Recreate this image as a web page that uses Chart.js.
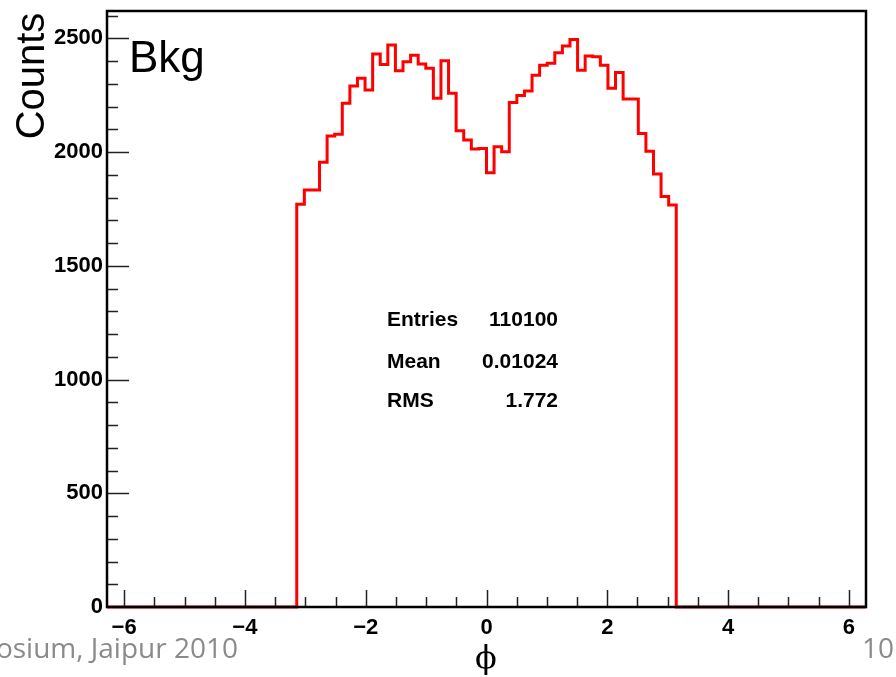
<!DOCTYPE html>
<html><head><meta charset="utf-8">
<script src="https://cdn.jsdelivr.net/npm/chart.js@4/dist/chart.umd.min.js"></script>
<style>html,body{margin:0;padding:0;background:#fff;overflow:hidden}#wrap{width:896px;height:677px;position:relative}</style>
</head><body><div id="wrap"><canvas id="c" width="896" height="677"></canvas></div>
<script>
// ---- data (100 bins over [-2pi, 2pi]) ----
const xMin = -2 * Math.PI;
const xMax = 2 * Math.PI;
const counts = [
  0,0,0,0,0,0,0,0,0,0,0,0,0,0,0,0,0,0,0,0,0,0,0,0,0,
  1771,1833,1833,1955,2070,2078,2214,2290,2324,2273,
  2431,2385,2470,2357,2397,2426,2387,2368,2236,2401,
  2258,2094,2053,2013,2016,1909,2023,2001,2218,2248,
  2268,2338,2382,2390,2437,2466,2495,2360,2422,2419,
  2382,2280,2350,2233,2233,2082,2004,1903,1804,1767,
  0,0,0,0,0,0,0,0,0,0,0,0,0,0,0,0,0,0,0,0,0,0,0,0,0
];
const xTickValues = [-6, -4, -2, 0, 2, 4, 6];
const yTickValues = [0, 500, 1000, 1500, 2000, 2500];
const statLabels = ['Entries', 'Mean', 'RMS'];
const statValues = ['110100', '0.01024', '1.772'];
const yTitle = 'Counts';
const xTitle = '\u03D5';
const histLabel = 'Bkg';
const footerLeft = 'osium, Jaipur 2010';
const footerRight = '10';

// ---- build step points: each bin's value held from its low edge to its high edge ----
const binW = (xMax - xMin) / counts.length;
const pts = [{ x: xMin, y: counts[0] }];
counts.forEach((v, i) => pts.push({ x: xMin + (i + 1) * binW, y: v }));

Chart.defaults.font.family = "'Liberation Sans', Arial, sans-serif";

const overlay = {
  id: 'overlay',
  afterDraw(chart) {
    const ctx = chart.ctx;
    const a = chart.chartArea;
    const xs = chart.scales.x, ys = chart.scales.y;
    ctx.save();
    // tick marks (inside)
    ctx.strokeStyle = '#222';
    ctx.lineWidth = 1.5;
    ctx.beginPath();
    for (let v = -6; v <= 6.0001; v += 0.5) {
      const px = Math.round(xs.getPixelForValue(v)) + 0.5;
      const major = Math.abs(v / 2 - Math.round(v / 2)) < 1e-6;
      const len = major ? 17 : 10;
      ctx.moveTo(px, a.bottom);
      ctx.lineTo(px, a.bottom - len);
    }
    for (let v = 100; v <= ys.max; v += 100) {
      const py = Math.round(ys.getPixelForValue(v)) + 0.5;
      const major = v % 500 === 0;
      const len = major ? 22 : 11;
      ctx.moveTo(a.left, py);
      ctx.lineTo(a.left + len, py);
    }
    ctx.stroke();
    // frame
    ctx.strokeStyle = '#000';
    ctx.lineWidth = 2.5;
    ctx.strokeRect(a.left, a.top, a.right - a.left, a.bottom - a.top);

    // y title
    ctx.fillStyle = '#000';
    ctx.save();
    ctx.translate(44, 76);
    ctx.rotate(-Math.PI / 2);
    ctx.font = "40px 'Liberation Sans', Arial, sans-serif";
    ctx.textAlign = 'center';
    ctx.textBaseline = 'alphabetic';
    ctx.fillText(yTitle, 0, 0);
    ctx.restore();

    // Bkg label
    ctx.font = "44px 'Liberation Sans', Arial, sans-serif";
    ctx.textAlign = 'left';
    ctx.textBaseline = 'alphabetic';
    ctx.fillText(histLabel, 129, 72);

    // stats
    ctx.font = "bold 21px 'Liberation Sans', Arial, sans-serif";
    const baselines = [326, 368, 407];
    statLabels.forEach((t, i) => {
      ctx.textAlign = 'left';
      ctx.fillText(t, 387, baselines[i]);
      ctx.textAlign = 'right';
      ctx.fillText(statValues[i], 558, baselines[i]);
    });

    // x title
    ctx.font = "32px 'DejaVu Serif', 'Liberation Serif', serif";
    ctx.textAlign = 'center';
    ctx.fillText(xTitle, 486, 668);

    // slide footer
    ctx.fillStyle = '#8a8a8a';
    ctx.font = "28px 'Open Sans', sans-serif";
    ctx.textAlign = 'right';
    ctx.fillText(footerLeft, 238, 658);
    ctx.textAlign = 'left';
    ctx.fillText(footerRight, 862, 658);
    ctx.restore();
  }
};

new Chart(document.getElementById('c'), {
  type: 'line',
  data: {
    datasets: [{
      label: histLabel,
      data: pts,
      stepped: 'after',
      borderColor: '#ff0000',
      borderWidth: 3,
      pointRadius: 0,
      fill: false,
      clip: 6,
      tension: 0
    }]
  },
  options: {
    responsive: false,
    animation: false,
    devicePixelRatio: 1,
    parsing: false,
    layout: { padding: { top: 11, right: 30, left: 0, bottom: 0 } },
    plugins: { legend: { display: false }, tooltip: { enabled: false } },
    scales: {
      x: {
        type: 'linear',
        min: xMin,
        max: xMax,
        grid: { display: false, drawTicks: false },
        border: { display: false },
        afterBuildTicks: s => { s.ticks = xTickValues.map(v => ({ value: v })); },
        afterFit: s => { s.height = 70; s.paddingLeft = 0; s.paddingRight = 0; },
        ticks: {
          autoSkip: false,
          maxRotation: 0,
          padding: 8,
          color: '#000',
          font: { size: 22, weight: 'bold' },
          callback: v => (v < 0 ? '\u2212' + Math.abs(v) : String(v))
        }
      },
      y: {
        min: 0,
        max: 2620,
        grid: { display: false, drawTicks: false },
        border: { display: false },
        afterBuildTicks: s => { s.ticks = yTickValues.map(v => ({ value: v })); },
        afterFit: s => { s.width = 107; s.paddingTop = 0; s.paddingBottom = 0; },
        ticks: {
          autoSkip: false,
          padding: 4,
          color: '#000',
          font: { size: 22, weight: 'bold' },
          callback: v => String(v)
        }
      }
    }
  },
  plugins: [overlay]
});
</script>
</body></html>
